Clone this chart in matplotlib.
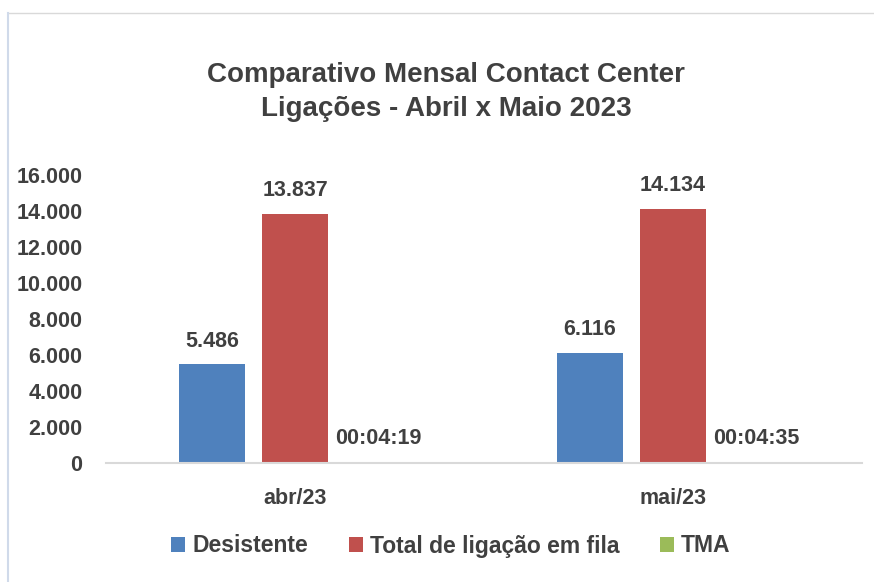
import matplotlib.pyplot as plt
import numpy as np
from matplotlib.lines import Line2D

plt.rcParams['font.family'] = ['Liberation Sans', 'DejaVu Sans']

# dados
meses = ['abr/23', 'mai/23']
desistente = [5486, 6116]
total_fila = [13837, 14134]
tma_segundos = [259, 275]  # 00:04:19 e 00:04:35

cores = ['#4F81BD', '#C0504D', '#9BBB59']
texto = '#404040'


def fmt_milhar(v):
    return f'{v:,.0f}'.replace(',', '.')


def fmt_tempo(s):
    return f'{s // 3600:02d}:{(s % 3600) // 60:02d}:{s % 60:02d}'


fig = plt.figure(figsize=(8.74, 5.82), dpi=100)
ax = fig.add_axes([106 / 874, 1 - 463 / 582, 756 / 874, 288 / 582])

x = np.arange(len(meses))
w = 0.175
d = 0.22
tma_dias = [s / 86400 for s in tma_segundos]

b1 = ax.bar(x - d, desistente, w, color=cores[0], label='Desistente')
b2 = ax.bar(x, total_fila, w, color=cores[1], label='Total de ligação em fila')
b3 = ax.bar(x + d, tma_dias, w, color=cores[2], label='TMA')

for rect, v in zip(b1, desistente):
    ax.text(rect.get_x() + w / 2, v + 700, fmt_milhar(v), ha='center', va='bottom',
            fontsize=15.5, fontweight='bold', color=texto)
for rect, v in zip(b2, total_fila):
    ax.text(rect.get_x() + w / 2, v + 700, fmt_milhar(v), ha='center', va='bottom',
            fontsize=15.5, fontweight='bold', color=texto)
for rect, s in zip(b3, tma_segundos):
    ax.text(rect.get_x() + w / 2, 750, fmt_tempo(s), ha='center', va='bottom',
            fontsize=15.5, fontweight='bold', color=texto)

ax.set_xlim(-0.5, 1.5)
ax.set_ylim(0, 16000)
ax.set_yticks(range(0, 16001, 2000))
ax.set_yticklabels([fmt_milhar(v) for v in range(0, 16001, 2000)])
ax.set_xticks(x)
ax.set_xticklabels(meses)
ax.tick_params(length=0, labelsize=15.5, colors=texto)
ax.tick_params(axis='y', pad=17)
ax.tick_params(axis='x', pad=18)
for lb in ax.get_xticklabels() + ax.get_yticklabels():
    lb.set_fontweight('bold')

for s in ['top', 'right', 'left']:
    ax.spines[s].set_visible(False)
ax.spines['bottom'].set_color('#D9D9D9')
ax.spines['bottom'].set_linewidth(1.5)

fig.text(446 / 874, 1 - 92 / 582, 'Comparativo Mensal Contact Center\nLigações - Abril x Maio 2023',
         ha='center', va='center', fontsize=20, fontweight='bold', color=texto,
         linespacing=1.45)

leg = fig.legend(handles=[b1, b2, b3], loc='center', bbox_to_anchor=(451 / 874, 1 - 546 / 582),
                 ncol=3, frameon=False, handlelength=0.6, handleheight=0.6,
                 handletextpad=0.3, columnspacing=1.8,
                 prop={'size': 16.5, 'weight': 'bold'})
for t in leg.get_texts():
    t.set_color(texto)

# moldura do gráfico
fig.add_artist(Line2D([8 / 874, 1], [1 - 13 / 582] * 2, color='#D9D9D9', lw=1))
fig.add_artist(Line2D([8 / 874] * 2, [0, 1 - 13 / 582], color='#D0DAEA', lw=1.5))

fig.savefig('out.png', dpi=100)
